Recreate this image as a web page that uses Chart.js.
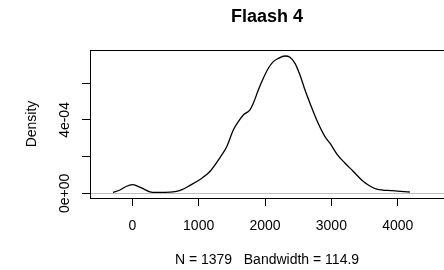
<!DOCTYPE html>
<html lang="en">
<head>
    <meta charset="UTF-8">
    <title>Flaash 4</title>
    <script src="https://cdn.jsdelivr.net/npm/chart.js"></script>
    <style>
        html, body { margin: 0; padding: 0; background: #fff; overflow: hidden; }
    </style>
</head>
<body>
    <canvas id="chart" width="444" height="270"></canvas>
    <script>
        // density curve
        const xValues = [-291, -185, -95, 0, 86, 176, 266, 357, 492, 643, 749, 869, 1020, 1170, 1322, 1423, 1522,
            1598, 1673, 1773, 1824, 1899, 1974, 2050, 2125, 2200, 2301, 2376, 2452, 2527, 2603, 2678, 2779,
            2904, 2979, 3083, 3203, 3324, 3474, 3580, 3685, 3926, 4182];
        const densityValues = [5.4e-6, 1.8e-5, 3.7e-5, 4.7e-5, 3.8e-5, 2.3e-5, 8e-6, 5e-6, 5e-6, 9e-6, 2.0e-5,
            4.3e-5, 7.5e-5, 1.19e-4, 1.95e-4, 2.54e-4, 3.45e-4, 3.91e-4, 4.27e-4, 4.55e-4, 4.91e-4, 5.63e-4,
            6.27e-4, 6.82e-4, 7.18e-4, 7.36e-4, 7.49e-4, 7.42e-4, 7.09e-4, 6.45e-4, 5.63e-4, 4.91e-4, 4.00e-4,
            3.09e-4, 2.73e-4, 2.14e-4, 1.65e-4, 1.22e-4, 6.7e-5, 4.0e-5, 2.3e-5, 1.4e-5, 7e-6];

        const xTicks = [0, 1000, 2000, 3000, 4000];
        const yTicks = [0, 0.0002, 0.0004, 0.0006];
        const yTickLabels = ['0e+00', '', '4e-04', ''];

        const font = '"Liberation Sans", Arial, sans-serif';
        Chart.defaults.color = '#000';
        Chart.defaults.font.family = font;
        Chart.defaults.font.size = 14;

        // top edge of the R box
        const boxTop = {
            id: 'boxTop',
            afterDraw(chart) {
                const { ctx, chartArea } = chart;
                ctx.save();
                ctx.strokeStyle = '#000';
                ctx.lineWidth = 1;
                ctx.beginPath();
                ctx.moveTo(chartArea.left, Math.round(chartArea.top) + 0.5);
                ctx.lineTo(chartArea.right, Math.round(chartArea.top) + 0.5);
                ctx.stroke();
                ctx.restore();
            }
        };

        const ctx = document.getElementById('chart').getContext('2d');
        new Chart(ctx, {
            type: 'line',
            data: {
                datasets: [{
                    data: xValues.map((x, i) => ({ x, y: densityValues[i] })),
                    borderColor: '#000',
                    borderWidth: 1.3,
                    pointRadius: 0,
                    cubicInterpolationMode: 'monotone',
                    fill: false
                }]
            },
            options: {
                responsive: false,
                animation: false,
                devicePixelRatio: 1,
                layout: { padding: 0 },
                plugins: {
                    legend: { display: false },
                    tooltip: { enabled: false },
                    title: {
                        display: true,
                        text: 'Flaash 4',
                        fullSize: false,
                        font: { size: 18, weight: 'bold', family: font },
                        padding: { top: 6, bottom: 22.4 }
                    }
                },
                scales: {
                    x: {
                        type: 'linear',
                        min: -637.5,
                        max: 4697.5,
                        afterBuildTicks: (s) => { s.ticks = xTicks.map(v => ({ value: v })); },
                        afterFit: (s) => { s.height = 72; },
                        ticks: { padding: 11.5, maxRotation: 0, callback: (v) => String(v) },
                        grid: { drawOnChartArea: false, tickLength: 8, tickColor: '#000' },
                        border: { color: '#000', width: 1 },
                        title: {
                            display: true,
                            text: 'N = 1379   Bandwidth = 114.9',
                            padding: { top: 0, bottom: 1.6 }
                        }
                    },
                    y: {
                        min: -2.57e-5,
                        max: 7.816e-4,
                        afterBuildTicks: (s) => { s.ticks = yTicks.map(v => ({ value: v })); },
                        afterFit: (s) => { s.width = 90; },
                        ticks: {
                            minRotation: 90,
                            maxRotation: 90,
                            crossAlign: 'center',
                            padding: -2.7,
                            callback: (v, i) => yTickLabels[i]
                        },
                        grid: {
                            drawOnChartArea: true,
                            tickLength: 8,
                            tickColor: '#000',
                            color: (c) => (c.tick && c.tick.value === 0 ? '#bebebe' : 'rgba(0,0,0,0)')
                        },
                        border: { color: '#000', width: 1 },
                        title: {
                            display: true,
                            text: 'Density',
                            padding: { top: 23.6, bottom: 0 }
                        }
                    }
                }
            },
            plugins: [boxTop]
        });
    </script>
</body>
</html>
